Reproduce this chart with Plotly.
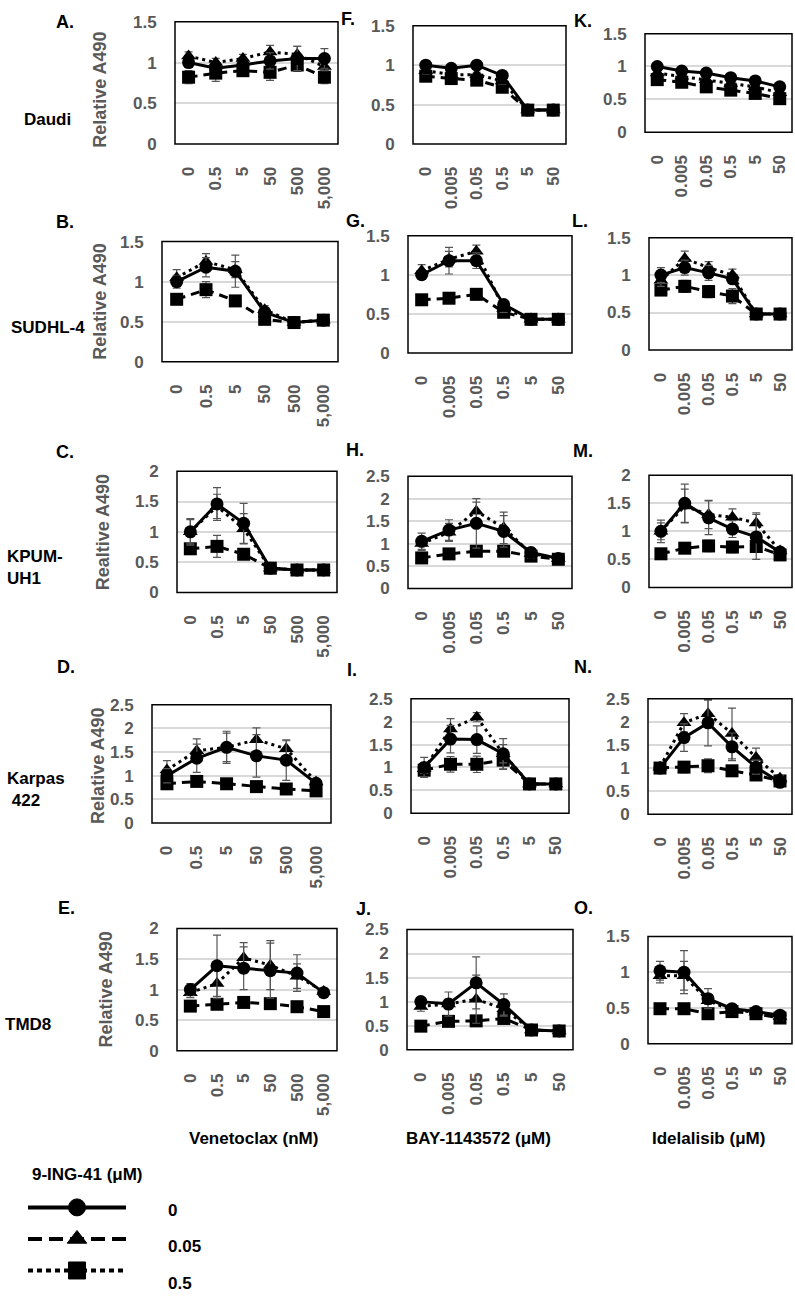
import plotly.graph_objects as go

W, H = 795, 1313

# ---------------- data ----------------
ven_ticks = ["0", "0.5", "5", "50", "500", "5,000"]
bay_ticks = ["0", "0.005", "0.05", "0.5", "5", "50"]
ide_ticks = ["0", "0.005", "0.05", "0.5", "5", "50"]

series_names = ["0", "0.05", "0.5"]

# Daudi
A_0 = [1.0, 0.93, 0.97, 1.02, 1.05, 1.05]
A_005 = [1.08, 1.0, 1.05, 1.13, 1.1, 0.95]
A_05 = [0.82, 0.87, 0.9, 0.88, 0.97, 0.82]
A_0_err = [0.05, 0.05, 0.05, 0.1, 0.15, 0.12]
A_005_err = [0.05, 0.05, 0.05, 0.08, 0.1, 0.05]
A_05_err = [0.08, 0.1, 0.05, 0.1, 0.08, 0.08]

F_0 = [1.0, 0.96, 1.0, 0.87, 0.43, 0.43]
F_005 = [0.93, 0.88, 0.88, 0.8, 0.43, 0.43]
F_05 = [0.86, 0.83, 0.81, 0.72, 0.43, 0.43]
F_0_err = [0.04, 0.03, 0.03, 0.04, 0.03, 0.03]
F_005_err = [0.04, 0.03, 0.03, 0.04, 0.03, 0.03]
F_05_err = [0.04, 0.03, 0.03, 0.04, 0.03, 0.03]

K_0 = [1.0, 0.93, 0.9, 0.83, 0.78, 0.69]
K_005 = [0.9, 0.85, 0.8, 0.74, 0.69, 0.6]
K_05 = [0.8, 0.76, 0.69, 0.64, 0.59, 0.51]
K_0_err = [0.03, 0.03, 0.03, 0.03, 0.03, 0.03]
K_005_err = [0.03, 0.03, 0.03, 0.03, 0.03, 0.03]
K_05_err = [0.03, 0.03, 0.03, 0.03, 0.03, 0.03]

# SUDHL-4
B_0 = [1.0, 1.18, 1.13, 0.62, 0.49, 0.52]
B_005 = [1.05, 1.25, 1.15, 0.65, 0.49, 0.52]
B_05 = [0.78, 0.9, 0.76, 0.53, 0.49, 0.52]
B_0_err = [0.08, 0.12, 0.2, 0.05, 0.03, 0.03]
B_005_err = [0.1, 0.1, 0.1, 0.05, 0.03, 0.03]
B_05_err = [0.05, 0.1, 0.05, 0.05, 0.03, 0.03]

G_0 = [1.0, 1.18, 1.18, 0.62, 0.43, 0.43]
G_005 = [1.05, 1.2, 1.3, 0.57, 0.43, 0.43]
G_05 = [0.68, 0.7, 0.75, 0.52, 0.43, 0.43]
G_0_err = [0.05, 0.17, 0.1, 0.05, 0.03, 0.03]
G_005_err = [0.08, 0.1, 0.08, 0.05, 0.03, 0.03]
G_05_err = [0.05, 0.05, 0.07, 0.05, 0.03, 0.03]

L_0 = [1.0, 1.1, 1.03, 0.95, 0.48, 0.48]
L_005 = [0.93, 1.22, 1.1, 1.0, 0.48, 0.48]
L_05 = [0.8, 0.85, 0.78, 0.72, 0.48, 0.48]
L_0_err = [0.1, 0.1, 0.1, 0.05, 0.03, 0.03]
L_005_err = [0.08, 0.1, 0.08, 0.08, 0.03, 0.03]
L_05_err = [0.05, 0.08, 0.08, 0.1, 0.03, 0.03]

# KPUM-UH1
C_0 = [1.0, 1.46, 1.14, 0.4, 0.37, 0.37]
C_005 = [1.0, 1.42, 1.05, 0.4, 0.37, 0.37]
C_05 = [0.72, 0.76, 0.63, 0.4, 0.37, 0.37]
C_0_err = [0.22, 0.27, 0.33, 0.03, 0.03, 0.03]
C_005_err = [0.2, 0.2, 0.25, 0.03, 0.03, 0.03]
C_05_err = [0.08, 0.18, 0.05, 0.03, 0.03, 0.03]

H_0 = [1.05, 1.3, 1.45, 1.27, 0.8, 0.67]
H_005 = [1.0, 1.25, 1.72, 1.35, 0.78, 0.67]
H_05 = [0.68, 0.77, 0.83, 0.83, 0.72, 0.65]
H_0_err = [0.18, 0.23, 0.55, 0.35, 0.1, 0.05]
H_005_err = [0.15, 0.2, 0.2, 0.35, 0.1, 0.05]
H_05_err = [0.08, 0.12, 0.1, 0.1, 0.05, 0.05]

M_0 = [1.0, 1.5, 1.24, 1.04, 0.9, 0.63]
M_005 = [1.0, 1.45, 1.3, 1.25, 1.15, 0.65]
M_05 = [0.6, 0.7, 0.74, 0.72, 0.73, 0.58]
M_0_err = [0.2, 0.34, 0.3, 0.15, 0.4, 0.05]
M_005_err = [0.15, 0.3, 0.25, 0.15, 0.18, 0.05]
M_05_err = [0.05, 0.05, 0.1, 0.1, 0.1, 0.05]

# Karpas 422
D_0 = [1.0, 1.37, 1.6, 1.42, 1.33, 0.84]
D_005 = [1.12, 1.53, 1.6, 1.76, 1.57, 0.87]
D_05 = [0.83, 0.88, 0.83, 0.77, 0.72, 0.68]
D_0_err = [0.15, 0.3, 0.34, 0.45, 0.43, 0.05]
D_005_err = [0.2, 0.25, 0.3, 0.25, 0.17, 0.05]
D_05_err = [0.05, 0.05, 0.05, 0.05, 0.05, 0.05]

I_0 = [1.0, 1.62, 1.61, 1.3, 0.64, 0.64]
I_005 = [0.97, 1.84, 2.1, 1.3, 0.64, 0.64]
I_05 = [0.94, 1.07, 1.07, 1.16, 0.64, 0.64]
I_0_err = [0.22, 0.3, 0.3, 0.33, 0.05, 0.05]
I_005_err = [0.1, 0.23, 0.1, 0.2, 0.05, 0.05]
I_05_err = [0.1, 0.17, 0.18, 0.2, 0.05, 0.05]

N_0 = [1.0, 1.66, 1.98, 1.46, 1.02, 0.69]
N_005 = [1.02, 1.98, 2.18, 1.75, 1.23, 0.78]
N_05 = [1.0, 1.02, 1.05, 0.94, 0.85, 0.72]
N_0_err = [0.05, 0.3, 0.5, 0.3, 0.15, 0.05]
N_005_err = [0.05, 0.2, 0.3, 0.55, 0.2, 0.05]
N_05_err = [0.05, 0.12, 0.15, 0.1, 0.05, 0.05]

# TMD8
E_0 = [1.0, 1.39, 1.35, 1.31, 1.27, 0.95]
E_005 = [0.95, 1.1, 1.52, 1.4, 1.22, 0.97]
E_05 = [0.73, 0.76, 0.79, 0.77, 0.72, 0.64]
E_0_err = [0.1, 0.5, 0.35, 0.45, 0.3, 0.05]
E_005_err = [0.08, 0.25, 0.25, 0.4, 0.2, 0.05]
E_05_err = [0.05, 0.05, 0.05, 0.05, 0.05, 0.05]

J_0 = [1.0, 0.95, 1.39, 0.94, 0.41, 0.39]
J_005 = [0.9, 0.95, 1.05, 0.85, 0.41, 0.39]
J_05 = [0.49, 0.59, 0.6, 0.65, 0.41, 0.39]
J_0_err = [0.05, 0.25, 0.54, 0.22, 0.05, 0.05]
J_005_err = [0.1, 0.1, 0.5, 0.15, 0.05, 0.05]
J_05_err = [0.05, 0.05, 0.1, 0.08, 0.05, 0.05]

O_0 = [1.02, 1.0, 0.63, 0.49, 0.45, 0.4]
O_005 = [0.95, 0.95, 0.6, 0.47, 0.44, 0.38]
O_05 = [0.49, 0.49, 0.42, 0.45, 0.42, 0.36]
O_0_err = [0.13, 0.3, 0.14, 0.05, 0.05, 0.05]
O_005_err = [0.1, 0.2, 0.05, 0.05, 0.05, 0.05]
O_05_err = [0.05, 0.05, 0.05, 0.05, 0.05, 0.05]

# ---------------- layout helpers ----------------
FONT = "Liberation Sans"
GRAY = "#595959"


def px_x(p):
    return p / W


def px_y(p):
    return 1 - p / H


# panel: letter, ticks, series, errors, box px (x0,x1,y0,y1), ymax, letter pos
panels = [
    ("A", ven_ticks, (A_0, A_005, A_05), (A_0_err, A_005_err, A_05_err), (175, 338, 13, 137), 1.5, (65, 13)),
    ("F", bay_ticks, (F_0, F_005, F_05), (F_0_err, F_005_err, F_05_err), (413, 566, 17, 137), 1.5, (348, 10)),
    ("K", ide_ticks, (K_0, K_005, K_05), (K_0_err, K_005_err, K_05_err), (645, 792, 25, 125), 1.5, (583, 12)),
    ("B", ven_ticks, (B_0, B_005, B_05), (B_0_err, B_005_err, B_05_err), (162, 338, 236, 358), 1.5, (65, 216)),
    ("G", bay_ticks, (G_0, G_005, G_05), (G_0_err, G_005_err, G_05_err), (408, 572, 230, 349), 1.5, (355, 215)),
    ("L", ide_ticks, (L_0, L_005, L_05), (L_0_err, L_005_err, L_05_err), (649, 792, 232, 346), 1.5, (580, 215)),
    ("C", ven_ticks, (C_0, C_005, C_05), (C_0_err, C_005_err, C_05_err), (177, 337, 469, 592), 2.0, (65, 450)),
    ("H", bay_ticks, (H_0, H_005, H_05), (H_0_err, H_005_err, H_05_err), (408, 572, 474, 588), 2.5, (355, 447)),
    ("M", ide_ticks, (M_0, M_005, M_05), (M_0_err, M_005_err, M_05_err), (649, 792, 473, 587), 2.0, (583, 448)),
    ("D", ven_ticks, (D_0, D_005, D_05), (D_0_err, D_005_err, D_05_err), (152, 331, 706, 826), 2.5, (66, 668)),
    ("I", bay_ticks, (I_0, I_005, I_05), (I_0_err, I_005_err, I_05_err), (411, 569, 700, 816), 2.5, (352, 671)),
    ("N", ide_ticks, (N_0, N_005, N_05), (N_0_err, N_005_err, N_05_err), (648, 792, 700, 817), 2.5, (583, 668)),
    ("E", ven_ticks, (E_0, E_005, E_05), (E_0_err, E_005_err, E_05_err), (177, 337, 933, 1057), 2.0, (66, 912)),
    ("J", bay_ticks, (J_0, J_005, J_05), (J_0_err, J_005_err, J_05_err), (407, 573, 934, 1056), 2.5, (363, 913)),
    ("O", ide_ticks, (O_0, O_005, O_05), (O_0_err, O_005_err, O_05_err), (648, 792, 941, 1050), 1.5, (583, 912)),
]

plot_symbols = ["circle", "triangle-up", "square"]
plot_dashes = ["solid", "3px,4px", "9px,6px"]
draw_order = [2, 1, 0]

fig = go.Figure()
layout = {}
annotations = []
shapes = []

for i, (letter, ticks, vals, errs, box, ymax, lpos) in enumerate(panels):
    n = i + 1
    sfx = "" if n == 1 else str(n)
    xa, ya = f"x{sfx}", f"y{sfx}"
    x0, x1, y0, y1 = box
    layout[f"xaxis{sfx}"] = dict(
        domain=[px_x(x0), px_x(x1)], anchor=ya, type="category",
        categoryorder="array", categoryarray=ticks,
        range=[-0.5, len(ticks) - 0.5],
        showline=False, showgrid=False, zeroline=False,
        ticks="outside", ticklen=15, tickcolor="rgba(0,0,0,0)",
        tickangle=-90,
        tickfont=dict(family=FONT, size=17, color=GRAY, weight="bold"),
        fixedrange=True,
    )
    layout[f"yaxis{sfx}"] = dict(
        domain=[px_y(y1), px_y(y0)], anchor=xa,
        range=[0, ymax], dtick=0.5, tick0=0,
        showline=False,
        showgrid=True, gridcolor="#d9d9d9", gridwidth=1.5, zeroline=False,
        ticks="outside", ticklen=14, tickcolor="rgba(0,0,0,0)",
        tickfont=dict(family=FONT, size=17, color=GRAY, weight="bold"),
        fixedrange=True,
    )
    shapes.append(dict(
        type="rect", xref=f"{xa} domain", yref=f"{ya} domain",
        x0=0, x1=1, y0=0, y1=1, line=dict(color="black", width=1.5),
        fillcolor="rgba(0,0,0,0)", layer="above",
    ))
    for k in draw_order:
        fig.add_trace(go.Scatter(
            x=ticks, y=vals[k], xaxis=xa, yaxis=ya,
            mode="lines+markers", showlegend=False, name=series_names[k],
            line=dict(color="black", width=3, dash=plot_dashes[k]),
            marker=dict(symbol=plot_symbols[k], size=13, color="black"),
            error_y=dict(type="data", array=errs[k], visible=True,
                         color="#555555", thickness=1.2, width=4),
            cliponaxis=False,
        ))
    annotations.append(dict(
        text=f"{letter}.", x=px_x(lpos[0]), y=px_y(lpos[1]), xref="paper", yref="paper",
        xanchor="center", yanchor="middle", showarrow=False,
        font=dict(family=FONT, size=18, color="black", weight="bold"),
    ))

# y titles (column 1)
ytitles = [("Relative A490", 100, 82), ("Relative A490", 100, 297), ("Realtive A490", 103, 531),
           ("Relative A490", 98, 768), ("Relative A490", 106, 995)]
for txt, xc, yc in ytitles:
    annotations.append(dict(
        text=txt, x=px_x(xc), y=px_y(yc), xref="paper", yref="paper",
        xanchor="center", yanchor="middle", textangle=-90, showarrow=False,
        font=dict(family=FONT, size=18, color=GRAY, weight="bold"),
    ))

# row labels
row_labels = [("Daudi", 47, 112, "center"), ("SUDHL-4", 48, 323, "center"),
              ("KPUM-<br>UH1", 5, 567, "left"), ("Karpas<br>&nbsp;422", 5, 792, "left"),
              ("TMD8", 28, 1030, "center")]
for txt, xc, yc, al in row_labels:
    annotations.append(dict(
        text=txt, x=px_x(xc), y=px_y(yc), xref="paper", yref="paper",
        xanchor=al, yanchor="middle", align=al, showarrow=False,
        font=dict(family=FONT, size=17, color="black", weight="bold"),
    ))

# drug titles
drug_titles = [("Venetoclax (nM)", 253), ("BAY-1143572 (μM)", 478), ("Idelalisib (μM)", 708)]
for txt, xc in drug_titles:
    annotations.append(dict(
        text=txt, x=px_x(xc), y=px_y(1146), xref="paper", yref="paper",
        xanchor="center", yanchor="middle", showarrow=False,
        font=dict(family=FONT, size=17, color="black", weight="bold"),
    ))

# legend (custom, long line keys)
leg_dashes = ["solid", "14px,7px", "5px,4px"]
n_leg = len(panels) + 1
layout[f"xaxis{n_leg}"] = dict(domain=[px_x(28), px_x(126)], anchor=f"y{n_leg}",
                                range=[0, 2], visible=False, fixedrange=True)
layout[f"yaxis{n_leg}"] = dict(domain=[px_y(1312), px_y(1200)], anchor=f"x{n_leg}",
                                range=[len(series_names), -0.5], visible=False,
                                fixedrange=True)
for k, nm in enumerate(series_names):
    fig.add_trace(go.Scatter(
        x=[0, 1, 2], y=[k, k, k], xaxis=f"x{n_leg}", yaxis=f"y{n_leg}",
        mode="lines+markers", showlegend=False, hoverinfo="skip",
        line=dict(color="black", width=4, dash=leg_dashes[k]),
        marker=dict(symbol=plot_symbols[k], size=[0, 17, 0], color="black",
                    opacity=1, line=dict(width=1, color="black")),
        cliponaxis=False,
    ))
leg_label_y = [1219, 1256, 1293]
for k, nm in enumerate(series_names):
    annotations.append(dict(
        text=nm, x=px_x(166), y=px_y(leg_label_y[k]), xref="paper", yref="paper",
        xanchor="left", yanchor="middle", showarrow=False,
        font=dict(family=FONT, size=17, color="black", weight="bold"),
    ))
annotations.append(dict(
    text="9-ING-41 (μM)", x=px_x(30), y=px_y(1183), xref="paper", yref="paper",
    xanchor="left", yanchor="middle", showarrow=False,
    font=dict(family=FONT, size=17, color="black", weight="bold"),
))

fig.update_layout(
    width=W, height=H, margin=dict(l=0, r=0, t=0, b=0),
    paper_bgcolor="white", plot_bgcolor="white",
    showlegend=False, annotations=annotations, shapes=shapes,
    font=dict(family=FONT),
    **layout,
)

fig.write_html(
    "out.html",
    config={"displayModeBar": False},
    post_script="document.body.style.margin='0px';document.body.style.overflow='hidden';",
)
